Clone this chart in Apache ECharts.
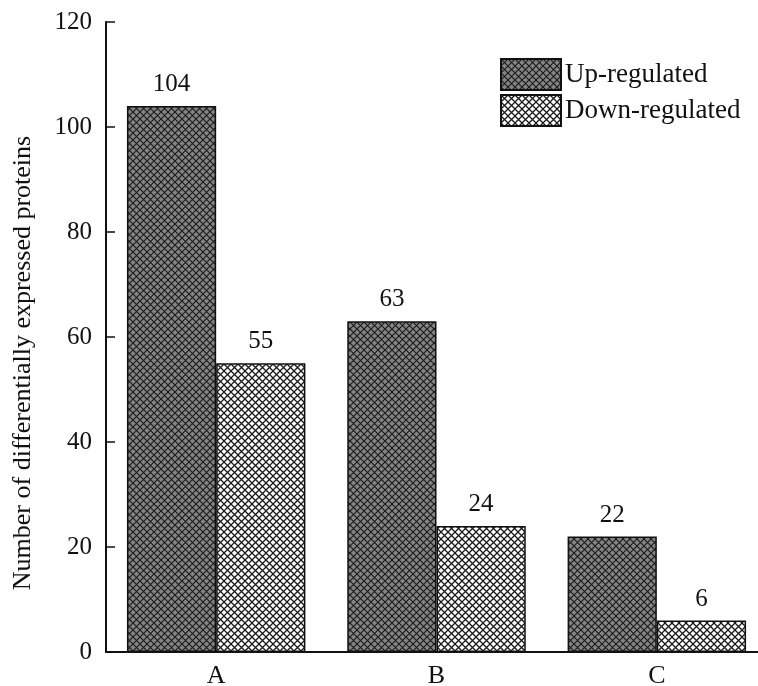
<!DOCTYPE html>
<html><head><meta charset="utf-8">
<script src="https://cdn.jsdelivr.net/npm/echarts@6/dist/echarts.min.js"></script>
<style>html,body{margin:0;padding:0;background:#fff}#c{width:758px;height:686px}</style>
</head><body><div id="c"></div>
<script>
var categories = ['A', 'B', 'C'];
var upValues = [104, 63, 22];
var downValues = [55, 24, 6];
var yTicks = [0, 20, 40, 60, 80, 100, 120];
var seriesNames = ['Up-regulated', 'Down-regulated'];

function makePattern(bg, line, lw) {
  var s = 7;
  var cv = document.createElement('canvas');
  cv.width = s; cv.height = s;
  var ctx = cv.getContext('2d');
  ctx.fillStyle = bg; ctx.fillRect(0, 0, s, s);
  ctx.strokeStyle = line; ctx.lineWidth = lw;
  ctx.beginPath();
  ctx.moveTo(-1, -1); ctx.lineTo(s + 1, s + 1);
  ctx.moveTo(-1, s + 1); ctx.lineTo(s + 1, -1);
  ctx.stroke();
  return {image: cv, repeat: 'repeat'};
}
var upPat = makePattern('#848484', '#1a1a1a', 1.1);
var downPat = makePattern('#ffffff', '#1a1a1a', 1.3);
var serif = 'Liberation Serif, Times New Roman, serif';

var chart = echarts.init(document.getElementById('c'), null, {renderer: 'canvas'});
chart.setOption({
  animation: false,
  backgroundColor: '#fff',
  grid: {left: 106, top: 22, width: 661, height: 630, containLabel: false, outerBoundsMode: 'none'},
  legend: {
    data: seriesNames, orient: 'vertical', left: 495, top: 53,
    icon: 'rect',
    itemWidth: 60, itemHeight: 31, itemGap: 3,
    textStyle: {fontFamily: serif, fontSize: 27, color: '#111', padding: [0, 0, 0, -1]}
  },
  xAxis: {
    type: 'category', data: categories,
    axisLine: {lineStyle: {color: '#111', width: 2}},
    axisTick: {show: false},
    axisLabel: {fontFamily: serif, fontSize: 26, color: '#111', margin: 11}
  },
  yAxis: {
    type: 'value', min: 0, max: 120, interval: 20,
    name: 'Number of differentially expressed proteins',
    nameLocation: 'middle', nameGap: 70, nameRotate: 90,
    nameTextStyle: {fontFamily: serif, fontSize: 26, color: '#111', padding: [0, 52, 0, 0]},
    axisLine: {show: true, lineStyle: {color: '#111', width: 2}},
    axisTick: {show: true, inside: true, length: 9, lineStyle: {color: '#111', width: 1.5}},
    splitLine: {show: false},
    axisLabel: {fontFamily: serif, fontSize: 25, color: '#111', margin: 14,
      formatter: function (v) { return yTicks.indexOf(v) >= 0 ? String(v) : ''; }}
  },
  series: [
    {name: seriesNames[0], type: 'bar', data: upValues, barGap: '0%', barCategoryGap: '19%',
     itemStyle: {color: upPat, borderColor: '#111', borderWidth: 1.5},
     label: {show: true, position: 'top', distance: 9, fontFamily: serif, fontSize: 25, color: '#111'}},
    {name: seriesNames[1], type: 'bar', data: downValues,
     itemStyle: {color: downPat, borderColor: '#111', borderWidth: 1.5},
     label: {show: true, position: 'top', distance: 9, fontFamily: serif, fontSize: 25, color: '#111'}}
  ]
});
</script></body></html>
